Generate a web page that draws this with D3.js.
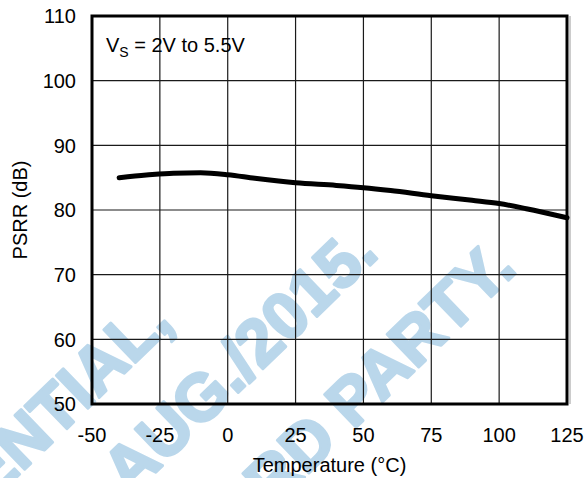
<!DOCTYPE html>
<html lang="en">
  <head>
    <meta charset="UTF-8" />
    <title>PSRR vs Temperature</title>
    <script src="https://d3js.org/d3.v7.min.js"></script>
    <style>
      body {
        margin: 0;
        padding: 0;
        background: #fff;
      }
      svg {
        display: block;
        font-family: "Liberation Sans", Arial, sans-serif;
      }
      .tick-label {
        font-size: 20px;
        fill: #000;
      }
      .grid line {
        stroke: #1a1a1a;
        stroke-width: 1.2;
      }
      .watermark text {
        font-size: 66px;
        font-weight: bold;
        fill: #bad7eb;
        stroke: #bad7eb;
        stroke-width: 3;
        stroke-linejoin: round;
      }
    </style>
  </head>
  <body>
    <script>
      // Data
      const temperature = [-40, -30, -20, -10, 0, 10, 25, 40, 50, 60, 75, 90, 100, 110, 125];
      const psrr = [85.0, 85.4, 85.7, 85.75, 85.45, 84.9, 84.2, 83.8, 83.45, 83.0, 82.2, 81.5, 81.0, 80.2, 78.8];
      const xTicks = [-50, -25, 0, 25, 50, 75, 100, 125];
      const yTicks = [50, 60, 70, 80, 90, 100, 110];
      const watermarkLines = ["CONFIDENTIAL,", "AUG./2015.", "TO 3RD PARTY."];

      const width = 585,
            height = 478;
      const margin = { top: 16, right: 18, bottom: 74, left: 92 };

      const svg = d3.select("body")
                    .append("svg")
                    .attr("width", width)
                    .attr("height", height);

      // Watermark sits behind everything
      const wm = svg.append("g")
                    .attr("class", "watermark")
                    .attr("transform", "rotate(-44)");
      const wmPos = [[-100, 331], [96, 424], [185, 531]];
      wm.selectAll("text")
        .data(watermarkLines)
        .join("text")
        .attr("x", (d, i) => wmPos[i][0])
        .attr("y", (d, i) => wmPos[i][1])
        .attr("dy", "0.36em")
        .attr("text-anchor", "end")
        .text(d => d);

      const x = d3.scaleLinear()
                  .domain([-50, 125])
                  .range([margin.left, width - margin.right]);
      const y = d3.scaleLinear()
                  .domain([50, 110])
                  .range([height - margin.bottom, margin.top]);

      // Grid lines
      const grid = svg.append("g").attr("class", "grid");
      grid.selectAll(".vline")
          .data(xTicks.slice(1, -1))
          .join("line")
          .attr("class", "vline")
          .attr("x1", d => x(d)).attr("x2", d => x(d))
          .attr("y1", y(110)).attr("y2", y(50));
      grid.selectAll(".hline")
          .data(yTicks.slice(1, -1))
          .join("line")
          .attr("class", "hline")
          .attr("x1", x(-50)).attr("x2", x(125))
          .attr("y1", d => y(d)).attr("y2", d => y(d));

      // Plot frame with a faint shadow on the right
      svg.append("line")
         .attr("x1", x(125) + 3).attr("x2", x(125) + 3)
         .attr("y1", y(110)).attr("y2", y(50))
         .attr("stroke", "#999").attr("stroke-width", 1);
      svg.append("rect")
         .attr("x", x(-50))
         .attr("y", y(110))
         .attr("width", x(125) - x(-50))
         .attr("height", y(50) - y(110))
         .attr("fill", "none")
         .attr("stroke", "#000")
         .attr("stroke-width", 3);

      // Tick labels
      svg.append("g")
         .selectAll("text")
         .data(xTicks)
         .join("text")
         .attr("class", "tick-label")
         .attr("x", d => x(d))
         .attr("y", 442)
         .attr("text-anchor", "middle")
         .text(d => d);
      svg.append("g")
         .selectAll("text")
         .data(yTicks)
         .join("text")
         .attr("class", "tick-label")
         .attr("x", 76)
         .attr("y", d => y(d))
         .attr("dy", "0.36em")
         .attr("text-anchor", "end")
         .text(d => d);

      // Axis titles
      svg.append("text")
         .attr("class", "tick-label")
         .attr("x", (x(-50) + x(125)) / 2)
         .attr("y", 472)
         .attr("text-anchor", "middle")
         .text("Temperature (°C)");
      svg.append("text")
         .attr("class", "tick-label")
         .attr("transform", `translate(27,${(y(50) + y(110)) / 2}) rotate(-90)`)
         .attr("text-anchor", "middle")
         .text("PSRR (dB)");

      // Condition note
      const note = svg.append("text")
                      .attr("class", "tick-label")
                      .attr("x", 106)
                      .attr("y", 52);
      note.append("tspan").text("V");
      note.append("tspan").attr("font-size", "14px").attr("dy", 5).text("S");
      note.append("tspan").attr("dy", -5).text(" = 2V to 5.5V");

      // Curve
      const points = temperature.map((t, i) => [t, psrr[i]]);
      const line = d3.line()
                     .x(d => x(d[0]))
                     .y(d => y(d[1]))
                     .curve(d3.curveMonotoneX);
      svg.append("path")
         .datum(points)
         .attr("fill", "none")
         .attr("stroke", "#000")
         .attr("stroke-width", 5)
         .attr("stroke-linecap", "round")
         .attr("d", line);
    </script>
  </body>
</html>
